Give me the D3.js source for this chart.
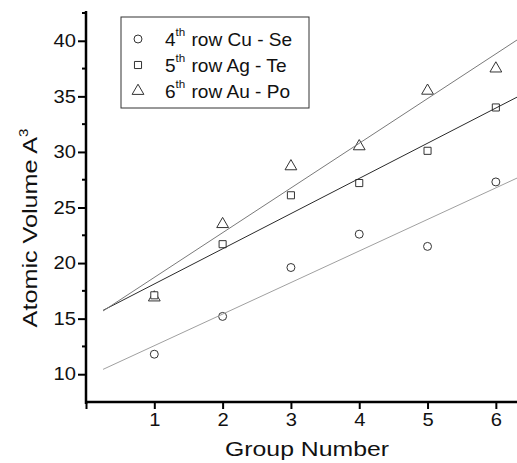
<!DOCTYPE html>
<html lang="en">
<head>
    <meta charset="UTF-8">
    <title>Atomic Volume</title>
    <script src="https://d3js.org/d3.v7.min.js"></script>
    <style>
        body { margin: 0; background: #fff; }
        svg { display: block; font-family: "Liberation Sans", Arial, sans-serif; }
    </style>
</head>
<body>
<div id="chart"></div>
<script>
    // values
    const groups = [1, 2, 3, 4, 5, 6];
    const row4 = [11.8, 15.2, 19.6, 22.6, 21.5, 27.3];   // Cu - Se
    const row5 = [17.1, 21.7, 26.1, 27.2, 30.1, 34.0];   // Ag - Te
    const row6 = [16.9, 23.5, 28.7, 30.5, 35.5, 37.5];   // Au - Po
    const yTicks = [10, 15, 20, 25, 30, 35, 40];
    const xTicks = [1, 2, 3, 4, 5, 6];

    const series = [
        {label: "4", rest: "row Cu - Se", vals: row4, sym: d3.symbolCircle, line: "#a0a0a0"},
        {label: "5", rest: "row Ag - Te", vals: row5, sym: d3.symbolSquare, line: "#2a2a2a"},
        {label: "6", rest: "row Au - Po", vals: row6, sym: d3.symbolTriangle, line: "#7a7a7a"}
    ];

    const width = 517, height = 463;
    const x = d3.scaleLinear().domain([0, 6.5]).range([86, 530]);
    const y = d3.scaleLinear().domain([7.5, 42.5]).range([402, 13]);

    const svg = d3.select("#chart").append("svg")
        .attr("width", width)
        .attr("height", height);

    // least squares fit, like the original linear fit
    function fit(xs, ys) {
        const mx = d3.mean(xs), my = d3.mean(ys);
        let sxy = 0, sxx = 0;
        xs.forEach((v, i) => { sxy += (v - mx) * (ys[i] - my); sxx += (v - mx) * (v - mx); });
        const b = sxy / sxx;
        return {a: my - b * mx, b: b};
    }

    const symSize = s => s.sym === d3.symbolTriangle ? 60 : 50;

    // markers, triangles first so the square at 1 sits on top
    [series[2], series[0], series[1]].forEach(s => {
        svg.append("g").selectAll("path")
            .data(s.vals)
            .join("path")
            .attr("transform", (d, i) => `translate(${x(groups[i])},${y(d)})`)
            .attr("d", d3.symbol().type(s.sym).size(symSize(s)))
            .attr("fill", "#fff")
            .attr("stroke", "#333")
            .attr("stroke-width", 1);
    });

    // fit lines drawn over the markers
    const line = d3.line().x(d => x(d[0])).y(d => y(d[1]));
    series.forEach(s => {
        const f = fit(groups, s.vals);
        const pts = [0.25, 6.5].map(v => [v, f.a + f.b * v]);
        svg.append("path")
            .attr("d", line(pts))
            .attr("fill", "none")
            .attr("stroke", s.line)
            .attr("stroke-width", 1);
    });

    // axes
    const yAxis = d3.axisLeft(y).tickValues(yTicks).tickSize(8).tickPadding(3);
    const gy = svg.append("g").attr("transform", "translate(86,0)").call(yAxis);
    gy.select(".domain").attr("stroke-width", 2.5).attr("d", "M0,11V404");
    gy.selectAll(".tick line").attr("stroke-width", 2);
    gy.selectAll(".tick text")
        .attr("font-size", 18).attr("fill", "#111")
        .attr("x", 0)
        .attr("transform", "translate(-10,0) scale(1.12,1)");
    // minor y ticks
    gy.selectAll(".minor")
        .data(d3.range(12.5, 43, 5))
        .join("line")
        .attr("x1", -4).attr("x2", 0)
        .attr("y1", d => y(d)).attr("y2", d => y(d))
        .attr("stroke", "#000").attr("stroke-width", 2);

    const xAxis = d3.axisBottom(x).tickValues([0].concat(xTicks)).tickSize(7).tickPadding(4)
        .tickFormat(d => d === 0 ? "" : d);
    const gx = svg.append("g").attr("transform", "translate(0,402)").call(xAxis);
    gx.select(".domain").attr("stroke-width", 2.5).attr("d", "M85,0H530");
    gx.selectAll(".tick line").attr("stroke-width", 2);
    gx.selectAll(".tick text")
        .attr("font-size", 18).attr("fill", "#111")
        .attr("transform", "scale(1.12,1)");

    svg.append("text")
        .attr("transform", "translate(307,456) scale(1.24,1)")
        .attr("text-anchor", "middle")
        .attr("font-size", 20)
        .attr("fill", "#111")
        .text("Group Number");

    const yt = svg.append("text")
        .attr("transform", "translate(37,228) rotate(-90) scale(1.26,1)")
        .attr("text-anchor", "middle")
        .attr("font-size", 20)
        .attr("fill", "#111");
    yt.append("tspan").text("Atomic Volume A");
    yt.append("tspan").attr("font-size", 12).attr("dy", -9).text("3");

    // legend
    const lg = svg.append("g");
    lg.append("rect")
        .attr("x", 121).attr("y", 17).attr("width", 188).attr("height", 91)
        .attr("fill", "#fff").attr("stroke", "#333").attr("stroke-width", 1);
    series.forEach((s, i) => {
        const cy = 39 + i * 26;
        lg.append("path")
            .attr("transform", `translate(138,${cy})`)
            .attr("d", d3.symbol().type(s.sym).size(symSize(s)))
            .attr("fill", "none").attr("stroke", "#333");
        const t = lg.append("g")
            .attr("transform", `translate(165,${cy + 7}) scale(1.06,1)`)
            .attr("fill", "#111");
        t.append("text").attr("font-size", 18).text(s.label);
        t.append("text").attr("x", 10).attr("y", -10).attr("font-size", 11).text("th");
        t.append("text").attr("x", 25).attr("font-size", 18).text(s.rest);
    });
</script>
</body>
</html>
